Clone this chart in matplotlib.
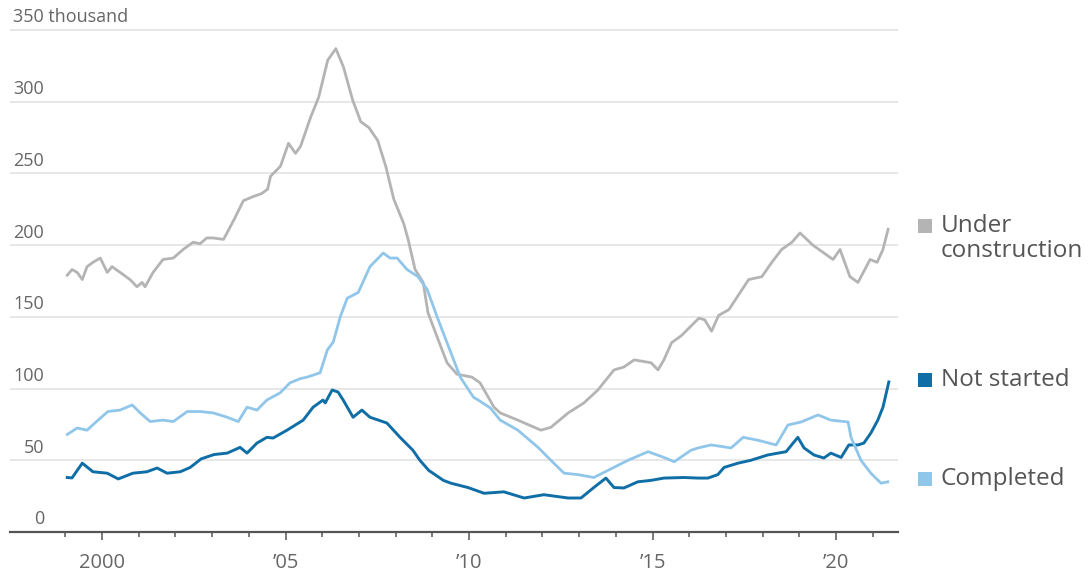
import matplotlib
matplotlib.use("Agg")
import matplotlib.pyplot as plt
from matplotlib.patches import Rectangle
from matplotlib.transforms import blended_transform_factory
from matplotlib.ticker import FixedLocator

plt.rcParams['font.family'] = ['Open Sans', 'DejaVu Sans']

# Homes under construction (thousands), by decimal year
under_x = [1999.05, 1999.18, 1999.32, 1999.46, 1999.59, 1999.75, 1999.95, 2000.14, 2000.27, 2000.49,
           2000.76, 2000.95, 2001.09, 2001.17, 2001.39, 2001.66, 2001.94, 2002.21, 2002.48, 2002.67,
           2002.85, 2003.03, 2003.31, 2003.60, 2003.85, 2004.13, 2004.35, 2004.51, 2004.59, 2004.86,
           2005.08, 2005.27, 2005.41, 2005.68, 2005.90, 2006.15, 2006.37, 2006.58, 2006.83, 2007.05,
           2007.27, 2007.51, 2007.73, 2007.95, 2008.22, 2008.34, 2008.53, 2008.75, 2008.88, 2009.13,
           2009.40, 2009.67, 2010.08, 2010.30, 2010.68, 2010.85, 2011.33, 2011.96, 2012.23, 2012.70,
           2013.13, 2013.51, 2013.95, 2014.22, 2014.50, 2014.96, 2015.15, 2015.31, 2015.52, 2015.79,
           2016.26, 2016.42, 2016.61, 2016.80, 2017.08, 2017.62, 2017.98, 2018.25, 2018.52, 2018.80,
           2019.02, 2019.37, 2019.92, 2020.11, 2020.38, 2020.60, 2020.93, 2021.12, 2021.28, 2021.42]
under_y = [179, 183, 181, 176, 185, 188, 191, 181, 185, 181,
           176, 171, 174, 171, 181, 190, 191, 197, 202, 201,
           205, 205, 204, 218, 231, 234, 236, 239, 248, 255,
           271, 264, 269, 289, 303, 329, 337, 324, 301, 286,
           282, 273, 255, 232, 215, 204, 183, 174, 153, 136,
           118, 110, 108, 104, 87, 83, 78, 71, 73, 83,
           90, 99, 113, 115, 120, 118, 113, 120, 132, 137,
           149, 148, 140, 151, 155, 176, 178, 188, 197, 202,
           208.5, 200, 190, 197, 178, 174, 190, 188, 197, 211]

# Homes sold but not started (thousands)
notstarted_x = [1999.05, 1999.18, 1999.46, 1999.75, 2000.14, 2000.44, 2000.84, 2001.22, 2001.50, 2001.77,
                2002.13, 2002.40, 2002.70, 2003.05, 2003.41, 2003.76, 2003.95, 2004.22, 2004.49, 2004.66,
                2005.04, 2005.48, 2005.75, 2006.02, 2006.08, 2006.27, 2006.43, 2006.57, 2006.84, 2007.08,
                2007.30, 2007.76, 2008.12, 2008.47, 2008.66, 2008.90, 2009.30, 2009.51, 2009.97, 2010.41,
                2010.95, 2011.50, 2012.04, 2012.70, 2013.05, 2013.40, 2013.73, 2013.95, 2014.22, 2014.60,
                2014.96, 2015.31, 2015.86, 2016.24, 2016.51, 2016.78, 2016.95, 2017.33, 2017.68, 2018.14,
                2018.64, 2018.96, 2019.13, 2019.40, 2019.67, 2019.86, 2020.14, 2020.35, 2020.60, 2020.76,
                2020.95, 2021.14, 2021.28, 2021.44]
notstarted_y = [38, 37.7, 48, 42, 41, 37, 41, 42, 44.6, 41,
                42, 45, 51, 54, 55, 59, 55, 62, 66, 65.5,
                71, 78, 87, 92, 90, 99, 97.6, 92, 80, 85,
                80, 76, 66, 57, 50, 43, 36, 34, 31, 27,
                28, 23.7, 26, 23.7, 23.7, 31, 37.6, 31, 30.7, 35,
                36, 37.6, 38, 37.6, 37.6, 40, 45, 48, 50, 53.7,
                56, 66, 58.6, 53.7, 51.6, 55, 52, 60.7, 60.7, 62,
                69, 78, 87, 104.6]

# Completed homes for sale (thousands)
completed_x = [1999.05, 1999.32, 1999.59, 1999.89, 2000.16, 2000.49, 2000.82, 2001.04, 2001.31, 2001.66,
               2001.94, 2002.32, 2002.67, 2003.03, 2003.41, 2003.71, 2003.95, 2004.22, 2004.49, 2004.85,
               2005.12, 2005.41, 2005.59, 2005.94, 2006.14, 2006.30, 2006.49, 2006.68, 2006.98, 2007.30,
               2007.66, 2007.85, 2008.04, 2008.31, 2008.61, 2008.86, 2009.13, 2009.40, 2009.76, 2010.12,
               2010.25, 2010.58, 2010.85, 2011.33, 2011.88, 2012.23, 2012.59, 2012.97, 2013.40, 2013.79,
               2014.33, 2014.88, 2015.31, 2015.59, 2016.05, 2016.24, 2016.60, 2017.14, 2017.47, 2017.87,
               2018.37, 2018.69, 2019.05, 2019.51, 2019.86, 2020.33, 2020.41, 2020.68, 2020.95, 2021.23,
               2021.41]
completed_y = [68, 72.5, 71, 78, 84, 85, 88.6, 83, 77, 78,
               77, 84, 84, 83, 80, 77, 87, 85, 92, 97,
               104, 107, 108, 111, 127, 132.5, 150, 163, 167, 185,
               194.5, 191, 191, 183, 178, 169, 150, 132, 108, 94,
               92, 86.5, 78, 71, 59, 50, 41, 40, 38, 43,
               50, 56, 52, 49, 57, 58.6, 60.7, 58.6, 66, 64,
               60.7, 74.6, 76.7, 81.6, 78, 76.7, 66, 50, 41, 34,
               35]

y_ticks = [0, 50, 100, 150, 200, 250, 300, 350]
y_tick_labels = ['0', '50', '100', '150', '200', '250', '300', '350 thousand']
x_major = [2000, 2005, 2010, 2015, 2020]
x_major_labels = ['2000', '\u201905', '\u201910', '\u201915', '\u201920']
x_minor = list(range(1999, 2022))

legend_labels = ['Under\nconstruction', 'Not started', 'Completed']
c_under = '#b4b4b4'
c_notstarted = '#0f6ea6'
c_completed = '#90c6ea'

W, H = 1090, 571
fig = plt.figure(figsize=(W / 100, H / 100), dpi=100)
fig.patch.set_facecolor('white')

ymax = 355
ax_bottom_px = 532
ax_top_px = ax_bottom_px - ymax * (502 / 350)
ax = fig.add_axes([10 / W, (H - ax_bottom_px) / H, 888 / W, (ax_bottom_px - ax_top_px) / H])
ax.set_xlim(1997.49, 2021.69)
ax.set_ylim(0, ymax)

for s in ['top', 'right', 'left']:
    ax.spines[s].set_visible(False)
ax.spines['bottom'].set_color('#555555')
ax.spines['bottom'].set_linewidth(1.6)

ax.set_yticks(y_ticks)
ax.set_yticklabels([])
ax.tick_params(axis='y', length=0)
ax.yaxis.grid(True, color='#e3e3e3', linewidth=1.2)
ax.set_axisbelow(True)

ax.set_xticks(x_major)
ax.set_xticklabels(x_major_labels)
ax.xaxis.set_minor_locator(FixedLocator([y for y in x_minor if y not in x_major]))
ax.tick_params(axis='x', which='major', length=5.5, width=1.1, color='#555555',
               labelsize=14.5, labelcolor='#666666', pad=9.5)
ax.tick_params(axis='x', which='minor', length=3.5, width=1.1, color='#555555')

# y labels sit just above their gridlines
tr = blended_transform_factory(ax.transAxes, ax.transData)
for v, lab in zip(y_ticks, y_tick_labels):
    if v == 350:
        ax.text(3 / 888, v + 2.5, lab, transform=tr, ha='left', va='bottom',
                fontsize=13, color='#666666')
    else:
        ax.text(34 / 888, v + 2.5, lab, transform=tr, ha='right', va='bottom',
                fontsize=13, color='#666666')

ax.plot(under_x, under_y, color=c_under, linewidth=2.0, solid_joinstyle='round')
ax.plot(notstarted_x, notstarted_y, color=c_notstarted, linewidth=2.1, solid_joinstyle='round')
ax.plot(completed_x, completed_y, color=c_completed, linewidth=2.0, solid_joinstyle='round')

# legend on the right: colour swatch + label
legend_colors = [c_under, c_notstarted, c_completed]
legend_y_px = [226, 380, 479]
for lab, col, ypx in zip(legend_labels, legend_colors, legend_y_px):
    fig.add_artist(Rectangle((918 / W, 1 - (ypx + 7) / H), 14 / W, 14 / H,
                             transform=fig.transFigure, facecolor=col, edgecolor='none'))
    fig.text(941 / W, 1 - (ypx - 12) / H, lab, ha='left', va='top', fontsize=17.5,
             color='#555555', linespacing=1.05)

fig.savefig('out.png', dpi=100, facecolor='white')
